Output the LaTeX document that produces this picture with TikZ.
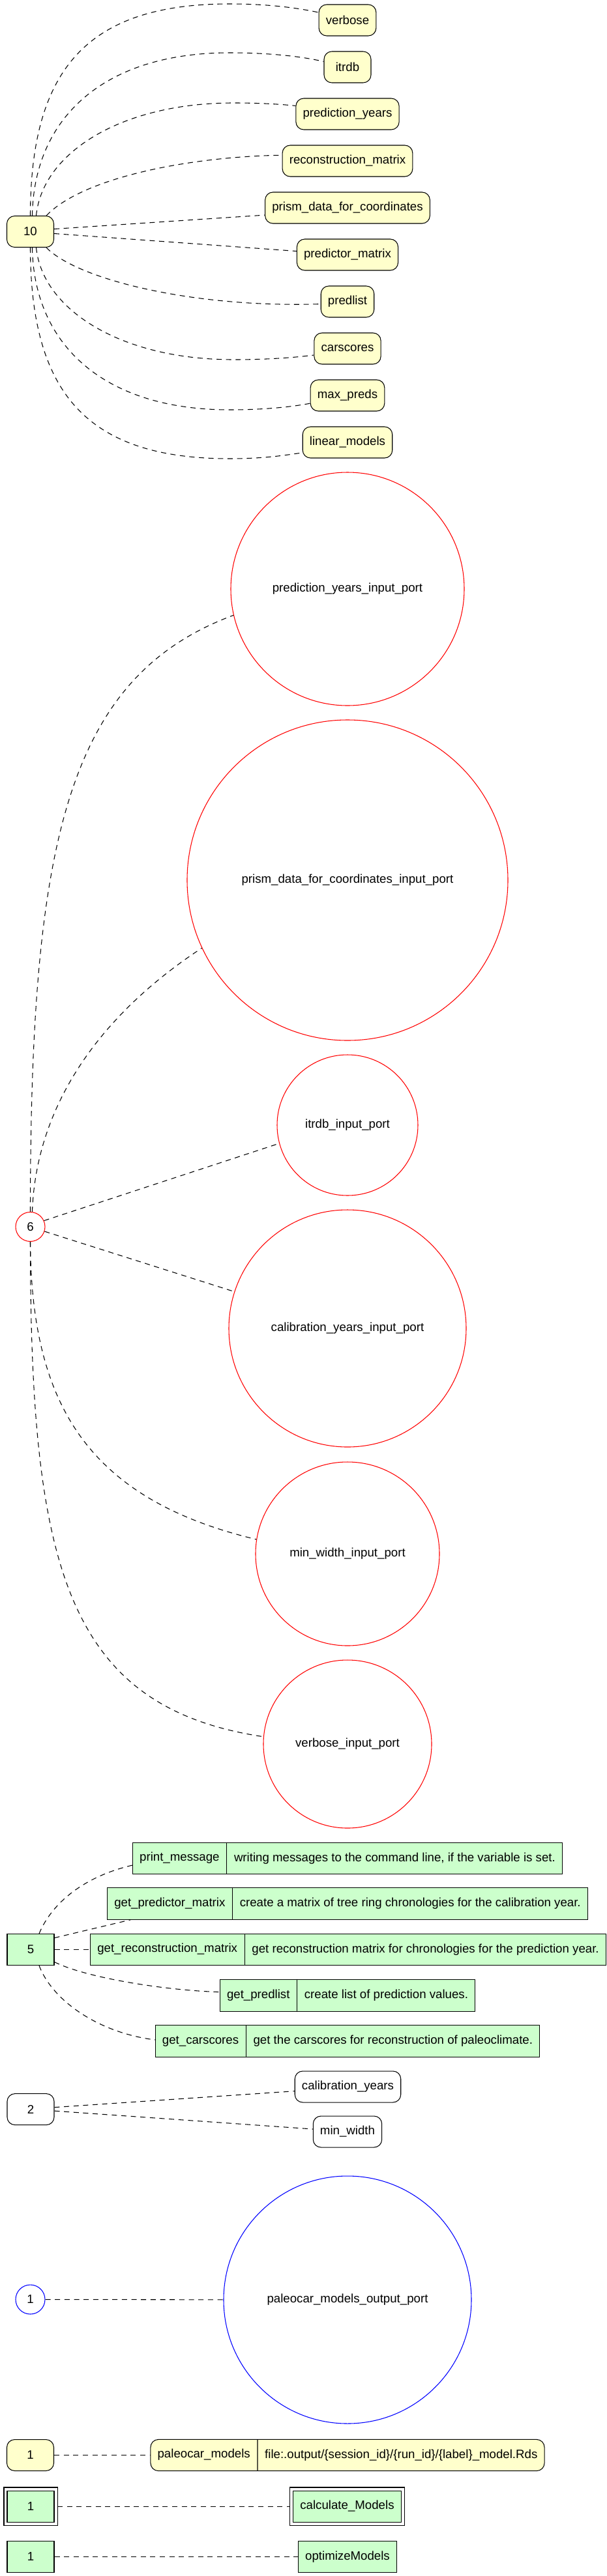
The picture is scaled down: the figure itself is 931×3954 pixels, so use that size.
\documentclass[tikz,border=0pt]{standalone}
\usepackage{fontspec}
\setmainfont{Liberation Sans}
\usetikzlibrary{calc,shapes.multipart}
\definecolor{yfill}{HTML}{FFFFCC}
\definecolor{gfill}{HTML}{CCFFCC}
\begin{document}
\begin{tikzpicture}[x=0.75pt,y=-0.75pt,
  every node/.style={font=\fontsize{14pt}{16pt}\selectfont, line width=0.8pt},
  ybox/.style={draw, fill=yfill, rounded corners=9pt, minimum height=36pt, minimum width=54pt, inner xsep=8pt, inner ysep=0pt},
  wbox/.style={draw, fill=white, rounded corners=9pt, minimum height=36pt, minimum width=54pt, inner xsep=8pt, inner ysep=0pt},
  gbox/.style={draw, fill=gfill, minimum height=36pt, minimum width=54pt, inner xsep=8pt, inner ysep=0pt},
  rport/.style={draw=red, circle, inner sep=0pt},
  bport/.style={draw=blue, circle, inner sep=0pt},
  grec/.style={draw, fill=gfill, rectangle split, rectangle split horizontal, rectangle split parts=2,
    text height=10pt, text depth=3.5pt, inner xsep=8pt, inner ysep=11.25pt},
  yrec/.style={grec, fill=yfill, rounded corners=9pt},
  conn/.style={draw, dash pattern=on 6pt off 5pt, line width=0.8pt},
  frame/.style={draw, line width=0.8pt}
]
\useasboundingbox[fill=white] (0,0) rectangle (931,3954);

% ---- group 10 ----
\node[ybox] (n10) at (46.5,355.5) {10};
\node[ybox] (verbose) at (533,31) {verbose};
\node[ybox] (itrdb) at (533,103) {itrdb};
\node[ybox] (predyears) at (533,175) {prediction\_years};
\node[ybox] (recm) at (533,247) {reconstruction\_matrix};
\node[ybox] (prism) at (533,319) {prism\_data\_for\_coordinates};
\node[ybox] (predm) at (533,391) {predictor\_matrix};
\node[ybox] (predlist) at (533,463) {predlist};
\node[ybox] (carscores) at (533,535) {carscores};
\node[ybox] (maxpreds) at (533,607) {max\_preds};
\node[ybox] (linm) at (533,679) {linear\_models};

\draw[conn] (n10.north) .. controls (47,110) and (130,6) .. (352,6) .. controls (420,6) and (465,14) .. (verbose.165);
\draw[conn] ($(n10.north)+(3,0)$) .. controls (52,180) and (160,81) .. (352,81) .. controls (420,81) and (470,88) .. (itrdb.167);
\draw[conn] ($(n10.north)+(9,0)$) .. controls (65,235) and (185,158) .. (358,158) .. controls (400,158) and (430,160) .. (predyears.171);
\draw[conn] ($(n10.north east)+(-12,0)$) .. controls (130,270) and (300,240) .. (recm.175);
\draw[conn] ($(n10.east)+(0,-4)$) -- (prism.185);
\draw[conn] ($(n10.east)+(0,3)$) -- (predm.176);
\draw[conn] ($(n10.south east)+(-12,0)$) .. controls (120,430) and (300,473) .. (predlist.185);
\draw[conn] ($(n10.south)+(9,0)$) .. controls (65,475) and (185,552) .. (358,552) .. controls (410,552) and (450,549) .. (carscores.191);
\draw[conn] ($(n10.south)+(3,0)$) .. controls (52,530) and (160,629) .. (352,629) .. controls (420,629) and (460,622) .. (maxpreds.192);
\draw[conn] (n10.south) .. controls (47,600) and (130,704) .. (352,704) .. controls (410,704) and (440,698) .. (linm.193);

% ---- group 6 ----
\node[rport, minimum size=268.5pt] (pyip) at (533,904) {prediction\_years\_input\_port};
\node[rport, minimum size=369pt] (prismc) at (533,1351) {prism\_data\_for\_coordinates\_input\_port};
\node[rport, minimum size=162pt] (itrdbc) at (533,1727) {itrdb\_input\_port};
\node[rport, minimum size=33.75pt] (n6) at (46.5,1883) {6};
\node[rport, minimum size=273pt] (calyc) at (533,2039) {calibration\_years\_input\_port};
\node[rport, minimum size=211.5pt] (minc) at (533,2385) {min\_width\_input\_port};
\node[rport, minimum size=193.5pt] (vipc) at (533,2677) {verbose\_input\_port};

\draw[conn] (n6.north) .. controls (47,1300) and (100,1040) .. (pyip.193.6);
\draw[conn] ($(n6.north)+(3,0)$) .. controls (55,1700) and (150,1560) .. (prismc.205.6);
\draw[conn] (n6.24) -- (itrdbc.195);
\draw[conn] (n6.-18) -- (calyc.162);
\draw[conn] (n6.south) .. controls (48,2150) and (130,2300) .. (minc.171);
\draw[conn] (n6.south) .. controls (47,2400) and (100,2620) .. (vipc.175);

% ---- group 5 ----
\node[grec] (pm) at (533,2852.5) {print\_message\nodepart{two}writing messages to the command line, if the variable is set.};
\node[grec] (gpm) at (533,2922) {get\_predictor\_matrix\nodepart{two}create a matrix of tree ring chronologies for the calibration year.};
\node[grec] (grm) at (534,2992.5) {get\_reconstruction\_matrix\nodepart{two}get reconstruction matrix for chronologies for the prediction year.};
\node[grec] (gpl) at (533,3063) {get\_predlist\nodepart{two}create list of prediction values.};
\node[grec] (gcs) at (533,3133) {get\_carscores\nodepart{two}get the carscores for reconstruction of paleoclimate.};
\node[gbox] (n5) at (47,2992.5) {5};

\draw[conn] ($(n5.north)+(13,0)$) .. controls (80,2920) and (130,2880) .. ($(pm.west)+(0,10.5)$);
\draw[conn] ($(n5.north east)+(0,6.5)$) -- ($(gpm.south west)+(36.5,0)$);
\draw[conn] (n5.east) -- (grm.west);
\draw[conn] ($(n5.south east)+(0,-5.5)$) .. controls (130,3035) and (250,3055) .. ($(gpl.west)+(0,-5.4)$);
\draw[conn] ($(n5.south)+(13,0)$) .. controls (80,3070) and (150,3120) .. ($(gcs.west)+(0,-2)$);

% ---- group 2 ----
\node[wbox] (n2) at (47,3237.6) {2};
\node[wbox] (calyrs) at (533.5,3203) {calibration\_years};
\node[wbox] (minw) at (533,3272) {min\_width};
\draw[conn] ($(n2.east)+(0,-3)$) -- ($(calyrs.west)+(0,6.7)$);
\draw[conn] ($(n2.east)+(0,2.5)$) -- ($(minw.west)+(0,-4)$);

% ---- output port ----
\node[bport, minimum size=33.75pt] (n1b) at (46.5,3529.5) {1};
\node[bport, minimum size=285pt] (outp) at (533,3530) {paleocar\_models\_output\_port};
\draw[conn] (n1b) -- (outp);

% ---- paleocar_models ----
\node[ybox] (n1y) at (46.5,3768.5) {1};
\node[yrec] (pmr) at (533,3768.5) {paleocar\_models\nodepart{two}file:.output/\{session\_id\}/\{run\_id\}/\{label\}\_model.Rds};
\draw[conn] (n1y) -- (pmr);

% ---- calculate_Models ----
\node[gbox] (n1d) at (47,3847) {1};
\node[gbox] (calcm) at (532.5,3847) {calculate\_Models};
\draw[frame] ($(n1d.north west)+(-4.5,-4.5)$) rectangle ($(n1d.south east)+(4.5,4.5)$);
\draw[frame] ($(calcm.north west)+(-4.5,-4.5)$) rectangle ($(calcm.south east)+(4.5,4.5)$);
\draw[conn] ($(n1d.east)+(4.5,0)$) -- ($(calcm.west)+(-4.5,0)$);

% ---- optimizeModels ----
\node[gbox] (n1g) at (47,3924.5) {1};
\node[gbox] (optm) at (533,3924.5) {optimizeModels};
\draw[conn] (n1g) -- (optm);
\end{tikzpicture}
\end{document}
